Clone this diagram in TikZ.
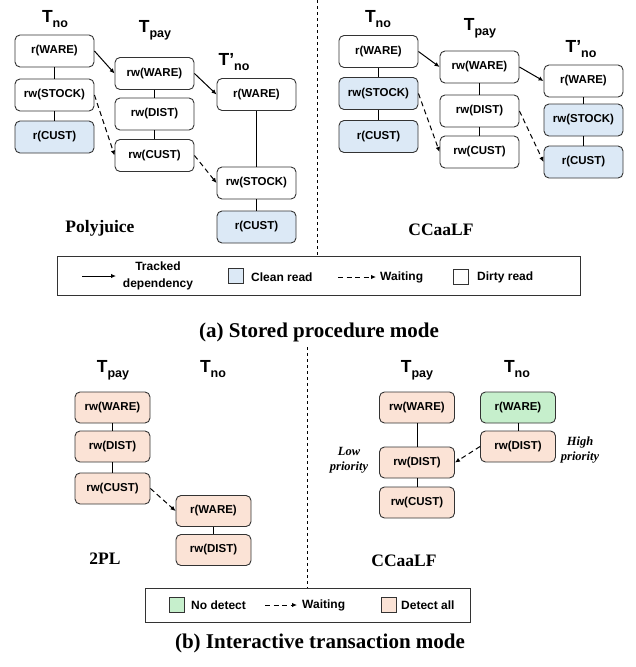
\documentclass[tikz,border=0pt]{standalone}
\usepackage{fontspec}
\usepackage[x11names]{xcolor}
\usetikzlibrary{arrows.meta}
\newfontfamily\sansfont{Liberation Sans}
\newfontfamily\timesfont{Liberation Serif}
\definecolor{cleanblue}{HTML}{DCE9F6}
\definecolor{detectpink}{HTML}{FBE3D6}
\definecolor{nodetgreen}{HTML}{C6EFCC}
\tikzset{>={Latex[length=5pt,width=4.5pt]}}
\newcommand{\tname}[2]{T#1\raisebox{-5pt}{\fontsize{12.5}{13}\selectfont #2}}

\begin{document}
\begin{tikzpicture}[x=1pt,y=-1pt,
		op/.style={draw=black!80,line width=.9pt,rounded corners=5pt,minimum width=79pt,minimum height=32pt,inner sep=0pt,font=\sansfont\bfseries\fontsize{11.5}{12}\selectfont},
		opsmall/.style={op,minimum width=75pt,minimum height=31pt,fill=detectpink},
		clean/.style={fill=cleanblue},
		title/.style={anchor=base,font=\sansfont\bfseries\fontsize{17.5}{17}\selectfont},
		algo/.style={font=\timesfont\bfseries\fontsize{17.5}{18}\selectfont},
		prio/.style={align=center,font=\timesfont\bfseries\itshape\fontsize{12.5}{15}\selectfont},
		lgd/.style={anchor=west,inner sep=0pt,font=\sansfont\bfseries\fontsize{12}{17}\selectfont},
		swatch/.style={draw=black!80,line width=.8pt,minimum size=15pt,inner sep=0pt},
		frame/.style={draw=black!80,line width=1pt,inner sep=0pt},
		capt/.style={font=\timesfont\bfseries\fontsize{21}{22}\selectfont},
		dep/.style={->,line width=1pt},
		wait/.style={->,dash pattern=on 5pt off 3.5pt,line width=1pt}]
	\useasboundingbox (0,0) rectangle (636,667);
	% (a) stored procedure mode -- Polyjuice
	\node[title] (ptno) at (55,22) {\tname{}{no}};
	\node[title] (ptpay) at (155,32) {\tname{}{pay}};
	\node[title] (ptnx) at (234,65) {\tname{’}{no}};
	\node[op] (pno1) at (54.5,51) {r(WARE)};
	\node[op] (pno2) at (54.5,95) {rw(STOCK)};
	\node[op,clean] (pno3) at (54.5,137) {r(CUST)};
	\node[op] (ppay1) at (154.5,73.5) {rw(WARE)};
	\node[op] (ppay2) at (154.5,114) {rw(DIST)};
	\node[op] (ppay3) at (154.5,155.5) {rw(CUST)};
	\node[op] (pnx1) at (256.5,94.5) {r(WARE)};
	\node[op] (pnx2) at (256.5,183) {rw(STOCK)};
	\node[op,clean] (pnx3) at (256.5,227) {r(CUST)};
	\node[algo] (poly) at (100,228) {Polyjuice};
	% (a) stored procedure mode -- CCaaLF
	\node[title] (ctno) at (378,22) {\tname{}{no}};
	\node[title] (ctpay) at (480,30) {\tname{}{pay}};
	\node[title] (ctnx) at (581,52) {\tname{’}{no}};
	\node[op] (cno1) at (378.5,51.5) {r(WARE)};
	\node[op,clean] (cno2) at (378.5,93.5) {rw(STOCK)};
	\node[op,clean] (cno3) at (378.5,136.5) {r(CUST)};
	\node[op] (cpay1) at (479.5,67) {rw(WARE)};
	\node[op] (cpay2) at (479.5,111) {rw(DIST)};
	\node[op] (cpay3) at (479.5,152) {rw(CUST)};
	\node[op] (cnx1) at (583.5,81) {r(WARE)};
	\node[op,clean] (cnx2) at (583.5,120) {rw(STOCK)};
	\node[op,clean] (cnx3) at (583.5,162) {r(CUST)};
	\node[algo] (ccaa) at (441,230) {CCaaLF};
	\foreach \p in {pno,ppay,pnx,cno,cpay,cnx}{
		\draw[line width=.9pt] (\p1) -- (\p2) (\p2) -- (\p3);
	}
	\draw[dep] (pno1.east) -- (ppay1.west);
	\draw[dep] (ppay1.east) -- (pnx1.west);
	\draw[wait] (pno2.east) -- (ppay3.west);
	\draw[wait] (ppay3.east) -- (pnx2.west);
	\draw[dep] (cno1.east) -- (cpay1.west);
	\draw[dep] (cpay1.east) -- (cnx1.west);
	\draw[wait] (cno2.east) -- (cpay3.west);
	\draw[wait] (cpay2.east) -- (cnx3.west);
	\draw[dashed,line width=.7pt] (317,0) -- (317,256);
	% legend (a)
	\node[frame,minimum width=523pt,minimum height=39pt] (lgda) at (318.5,275.5) {};
	\coordinate (depa) at (82,276);
	\coordinate (depb) at (116,276);
	\draw[dep] (depa) -- (depb);
	\node[lgd,anchor=center,align=center] (ltrk) at (158,276) {Tracked\\dependency};
	\node[swatch,fill=cleanblue] (lcln) at (236,276) {};
	\node[lgd] (lclnt) at (251,277) {Clean read};
	\coordinate (waita) at (338,277);
	\coordinate (waitb) at (376,277);
	\draw[wait] (waita) -- (waitb);
	\node[lgd] (lwait) at (380,277) {Waiting};
	\node[swatch] (ldrt) at (461,277) {};
	\node[lgd] (ldrtt) at (477,277) {Dirty read};
	\node[capt] (capa) at (319,332) {(a) Stored procedure mode};
	% (b) interactive transaction mode -- 2PL
	\node[title] (ltpay) at (113,372) {\tname{}{pay}};
	\node[title] (ltno) at (213,372) {\tname{}{no}};
	\node[opsmall] (lpay1) at (112.5,407.5) {rw(WARE)};
	\node[opsmall] (lpay2) at (112.5,446.5) {rw(DIST)};
	\node[opsmall] (lpay3) at (112.5,488.5) {rw(CUST)};
	\node[opsmall] (lno1) at (213.5,511) {r(WARE)};
	\node[opsmall] (lno2) at (213.5,550) {rw(DIST)};
	\node[algo] (twopl) at (105,559) {2PL};
	% (b) interactive transaction mode -- CCaaLF
	\node[title] (ftpay) at (417,372) {\tname{}{pay}};
	\node[title] (ftno) at (517,372) {\tname{}{no}};
	\node[opsmall] (fpay1) at (417,407.5) {rw(WARE)};
	\node[opsmall] (fpay2) at (417,462.5) {rw(DIST)};
	\node[opsmall] (fpay3) at (417,502.5) {rw(CUST)};
	\node[opsmall,fill=nodetgreen] (fno1) at (518,407.5) {r(WARE)};
	\node[opsmall] (fno2) at (518,446.5) {rw(DIST)};
	\node[algo] (ccab) at (404,561) {CCaaLF};
	\node[prio] (low) at (349,460) {Low\\priority};
	\node[prio] (high) at (580,450) {High\\priority};
	\foreach \a/\b in {lpay1/lpay2,lpay2/lpay3,lno1/lno2,fpay1/fpay2,fpay2/fpay3,fno1/fno2}
		\draw[line width=.9pt] (\a) -- (\b);
	\draw[wait] (lpay3.east) -- (lno1.west);
	\draw[wait] (fno2.west) -- (fpay2.east);
	\draw[dashed,line width=.7pt] (307,347) -- (307,588);
	% legend (b)
	\node[frame,minimum width=325pt,minimum height=34pt] (lgdb) at (307.5,605) {};
	\node[swatch,fill=nodetgreen] (lnod) at (177,605) {};
	\node[lgd] (lnodt) at (191,605) {No detect};
	\coordinate (waitc) at (265,605);
	\coordinate (waitd) at (297,605);
	\draw[wait] (waitc) -- (waitd);
	\node[lgd] (lwaitb) at (302,605) {Waiting};
	\node[swatch,fill=detectpink] (ldet) at (389,605) {};
	\node[lgd] (ldett) at (401,605) {Detect all};
	\node[capt] (capb) at (320,643) {(b) Interactive transaction mode};
\end{tikzpicture}
\end{document}
